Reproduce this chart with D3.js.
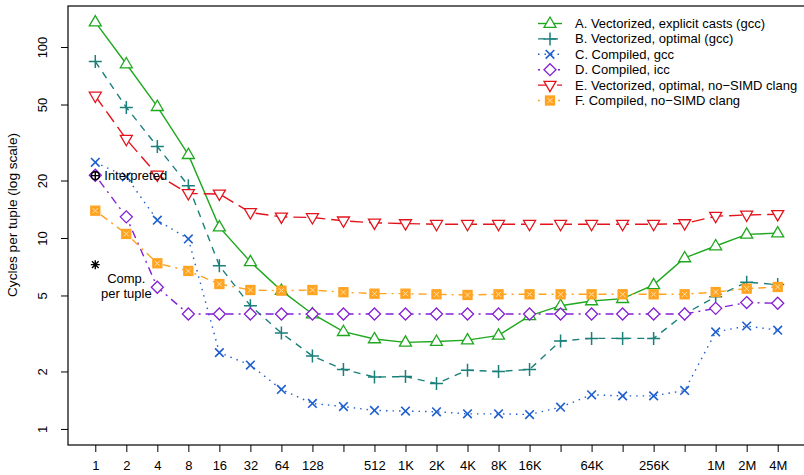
<!DOCTYPE html>
<html>
<head>
<meta charset="utf-8">
<script src="https://cdn.jsdelivr.net/npm/d3@7"></script>
<style>
  body { margin: 0; background: #fff; }
  svg text { font-family: Arial, Helvetica, "Liberation Sans", sans-serif; fill: #000; }
</style>
</head>
<body>
<div id="chart"></div>
<script>
// tuple counts are 2^0 .. 2^22
const sizeExp = d3.range(0, 23);
const sizeLabels = ['1', '2', '4', '8', '16', '32', '64', '128', '', '512', '1K', '2K', '4K', '8K', '16K', '', '64K', '', '256K', '', '1M', '2M', '4M'];
const yTicks = [1, 2, 5, 10, 20, 50, 100];

const seriesA = [135, 81.5, 48.7, 27.3, 11.4, 7.5, 5.3, 4.0, 3.23, 2.96, 2.84, 2.87, 2.92, 3.09, 3.91, 4.42, 4.68, 4.81, 5.68, 7.86, 9.08, 10.45, 10.6];
const seriesB = [84, 48.3, 30.1, 18.8, 7.16, 4.42, 3.18, 2.41, 2.05, 1.87, 1.88, 1.73, 2.03, 2.0, 2.05, 2.89, 2.98, 2.98, 2.98, 4.0, 4.93, 5.87, 5.7];
const seriesC = [24.9, 20.9, 12.4, 9.88, 2.51, 2.16, 1.61, 1.36, 1.31, 1.25, 1.24, 1.23, 1.2, 1.2, 1.19, 1.3, 1.51, 1.49, 1.49, 1.59, 3.22, 3.46, 3.29];
const seriesD = [21.3, 12.9, 5.52, 4.0, 4.0, 4.0, 4.0, 4.0, 4.0, 4.0, 4.0, 4.0, 4.0, 4.0, 4.0, 4.0, 4.0, 4.0, 4.0, 4.0, 4.28, 4.59, 4.55];
const seriesE = [55.4, 32.9, 21.4, 17.1, 17.0, 13.6, 12.9, 12.8, 12.3, 12.0, 11.9, 11.8, 11.8, 11.8, 11.8, 11.8, 11.8, 11.8, 11.8, 11.9, 13.0, 13.2, 13.3];
const seriesF = [13.9, 10.5, 7.37, 6.72, 5.74, 5.34, 5.3, 5.34, 5.2, 5.11, 5.11, 5.07, 5.03, 5.07, 5.07, 5.07, 5.07, 5.07, 5.07, 5.07, 5.21, 5.43, 5.54];

const seriesNames = ['A. Vectorized, explicit casts (gcc)', 'B. Vectorized, optimal (gcc)', 'C. Compiled, gcc', 'D. Compiled, icc', 'E. Vectorized, optimal, no\u2212SIMD clang', 'F. Compiled, no\u2212SIMD clang'];
const interpretedValue = 21.2;
const compPerTuple = 7.25;

const series = [
  { name: seriesNames[0], values: seriesA, color: '#1fa81f', dash: null, shape: 'triUp' },
  { name: seriesNames[1], values: seriesB, color: '#1b7f7a', dash: '7,6', shape: 'plus' },
  { name: seriesNames[2], values: seriesC, color: '#1f5fcf', dash: '1.5,5', shape: 'cross' },
  { name: seriesNames[3], values: seriesD, color: '#8420d4', dash: '2,5,8,5', shape: 'diamond' },
  { name: seriesNames[4], values: seriesE, color: '#e3131c', dash: '13,6', shape: 'triDown' },
  { name: seriesNames[5], values: seriesF, color: '#ffa321', dash: '2,5,8,5', shape: 'square' }
];

const W = 804, H = 475;
const box = { left: 68, right: 805, top: 6, bottom: 445 };

const svg = d3.select('#chart').append('svg')
  .attr('width', W).attr('height', H);

const x = d3.scaleLinear().domain([-0.88, 22.88]).range([box.left, box.right]);
const y = d3.scaleLog().domain([0.824, 164]).range([box.bottom, box.top]);

// axes
const xAxis = svg.append('g')
  .attr('transform', `translate(0,${box.bottom})`)
  .call(d3.axisBottom(x).tickValues(sizeExp).tickSize(7).tickPadding(9)
    .tickFormat(i => sizeLabels[i]));
xAxis.select('.domain').remove();
xAxis.attr('font-family', null);
xAxis.selectAll('text').style('font-size', '13px');

const yAxis = svg.append('g')
  .attr('transform', `translate(${box.left},0)`)
  .call(d3.axisLeft(y).tickValues(yTicks).tickSize(7).tickFormat(d3.format('d')));
yAxis.select('.domain').remove();
yAxis.attr('font-family', null);
yAxis.selectAll('text')
  .style('font-size', '13px')
  .attr('text-anchor', 'middle')
  .attr('x', 0).attr('dy', 0)
  .attr('transform', 'translate(-25,0) rotate(-90)')
  .attr('y', 4);

svg.append('rect')
  .attr('x', box.left).attr('y', box.top)
  .attr('width', box.right - box.left).attr('height', box.bottom - box.top)
  .attr('fill', 'none').attr('stroke', '#000').attr('stroke-width', 1.2);

svg.append('text')
  .attr('transform', 'translate(17,215) rotate(-90)')
  .attr('text-anchor', 'middle')
  .style('font-size', '13.6px')
  .text('Cycles per tuple (log scale)');

function drawMarker(g, shape, cx, cy, color) {
  const m = g.append('g').attr('transform', `translate(${cx},${cy})`)
    .attr('stroke', color).attr('fill', 'none').attr('stroke-width', 1.3);
  if (shape === 'triUp') {
    m.append('path').attr('d', 'M0,-6.5L6,3.8L-6,3.8Z').attr('fill', '#fff');
  } else if (shape === 'triDown') {
    m.append('path').attr('d', 'M0,6.5L6,-3.8L-6,-3.8Z').attr('fill', '#fff');
  } else if (shape === 'plus') {
    m.append('path').attr('d', 'M-6.5,0H6.5M0,-6.5V6.5').attr('stroke-width', 1.5);
  } else if (shape === 'cross') {
    m.append('path').attr('d', 'M-4.3,-4.3L4.3,4.3M-4.3,4.3L4.3,-4.3').attr('stroke-width', 1.6);
  } else if (shape === 'diamond') {
    m.append('path').attr('d', 'M0,-6L6,0L0,6L-6,0Z').attr('fill', '#fff');
  } else if (shape === 'square') {
    m.append('rect').attr('x', -4.5).attr('y', -4.5).attr('width', 9).attr('height', 9)
      .attr('fill', color);
    m.append('path').attr('d', 'M-2.5,-2.5L2.5,2.5M-2.5,2.5L2.5,-2.5')
      .attr('stroke', '#ffe2b0').attr('stroke-width', 1);
  }
}

const line = d3.line().x((d, i) => x(sizeExp[i])).y(d => y(d));

const plot = svg.append('g');
series.forEach(s => {
  plot.append('path')
    .attr('d', line(s.values))
    .attr('fill', 'none')
    .attr('stroke', s.color)
    .attr('stroke-width', 1.4)
    .attr('stroke-dasharray', s.dash);
});
series.forEach(s => {
  s.values.forEach((v, i) => drawMarker(plot, s.shape, x(sizeExp[i]), y(v), s.color));
});

// interpreted marker (circle with plus)
const ip = svg.append('g').attr('transform', `translate(${x(0)},${y(interpretedValue)})`)
  .attr('stroke', '#000').attr('fill', 'none');
ip.append('circle').attr('r', 4).attr('stroke-width', 1.6);
ip.append('path').attr('d', 'M-4.5,0H4.5M0,-4.5V4.5').attr('stroke-width', 1.4);
svg.append('text')
  .attr('x', x(0) + 9).attr('y', y(interpretedValue) + 4.5)
  .style('font-size', '13px')
  .text('Interpreted');

// compilation per tuple (asterisk)
const ast = svg.append('g').attr('transform', `translate(${x(0)},${y(compPerTuple)})`)
  .attr('stroke', '#000').attr('stroke-width', 1.4);
ast.append('path').attr('d', 'M-4.5,0H4.5M0,-4.5V4.5M-3.3,-3.3L3.3,3.3M-3.3,3.3L3.3,-3.3');
svg.append('text')
  .attr('x', x(1)).attr('y', 283)
  .attr('text-anchor', 'middle')
  .style('font-size', '13px')
  .text('Comp.');
svg.append('text')
  .attr('x', x(1)).attr('y', 297.5)
  .attr('text-anchor', 'middle')
  .style('font-size', '13px')
  .text('per tuple');

// legend
const legend = svg.append('g');
series.forEach((s, i) => {
  const ly = 23.5 + i * 15.4;
  legend.append('path')
    .attr('d', `M538,${ly}H562`)
    .attr('stroke', s.color).attr('stroke-width', 1.4)
    .attr('stroke-dasharray', s.dash);
  drawMarker(legend, s.shape, 550, ly, s.color);
  legend.append('text')
    .attr('x', 575).attr('y', ly + 4.5)
    .style('font-size', '13px')
    .text(s.name);
});
</script>
</body>
</html>
